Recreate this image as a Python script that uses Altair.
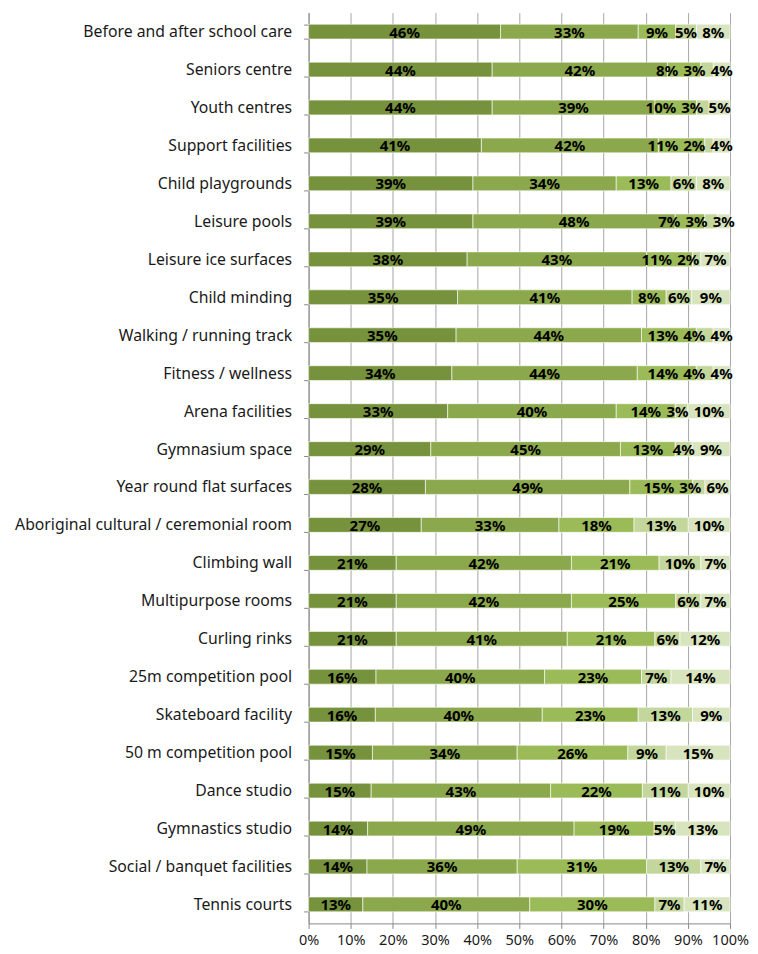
import altair as alt
import pandas as pd

categories = [
    "Before and after school care", "Seniors centre", "Youth centres",
    "Support facilities", "Child playgrounds", "Leisure pools",
    "Leisure ice surfaces", "Child minding", "Walking / running track",
    "Fitness / wellness", "Arena facilities", "Gymnasium space",
    "Year round flat surfaces", "Aboriginal cultural / ceremonial room",
    "Climbing wall", "Multipurpose rooms", "Curling rinks",
    "25m competition pool", "Skateboard facility", "50 m competition pool",
    "Dance studio", "Gymnastics studio", "Social / banquet facilities",
    "Tennis courts",
]
series_names = ["Level 1", "Level 2", "Level 3", "Level 4", "Level 5"]
level1 = [46, 44, 44, 41, 39, 39, 38, 35, 35, 34, 33, 29, 28, 27, 21, 21, 21, 16, 16, 15, 15, 14, 14, 13]
level2 = [33, 42, 39, 42, 34, 48, 43, 41, 44, 44, 40, 45, 49, 33, 42, 42, 41, 40, 40, 34, 43, 49, 36, 40]
level3 = [9, 8, 10, 11, 13, 7, 11, 8, 13, 14, 14, 13, 15, 18, 21, 25, 21, 23, 23, 26, 22, 19, 31, 30]
level4 = [5, 3, 3, 2, 6, 3, 2, 6, 4, 4, 3, 4, 3, 13, 10, 6, 6, 7, 13, 9, 11, 5, 13, 7]
level5 = [8, 4, 5, 4, 8, 3, 7, 9, 4, 4, 10, 9, 6, 10, 7, 7, 12, 14, 9, 15, 10, 13, 7, 11]
colors = ["#77923C", "#8BA84C", "#9BBB59", "#C3D69B", "#D7E4BD"]

PLOT_W = 422
PLOT_H = 912
LABEL_FONT = 15


def label_width_px(text):
    # rough width estimate of a bold label, used only to keep labels apart
    return 8.3 * (len(text) - 1) + 13.0


all_series = [level1, level2, level3, level4, level5]
rows = []
for ci, cat in enumerate(categories):
    vals = [s[ci] for s in all_series]
    total = float(sum(vals))
    cum = 0.0
    segs = []
    for si, v in enumerate(vals):
        s0 = cum / total
        cum += v
        s1 = cum / total
        segs.append({"cat": cat, "series": series_names[si], "order": si,
                     "value": v, "label": f"{v}%", "s0": s0, "s1": s1,
                     "mid": (s0 + s1) / 2})
    # simple label de-collision: push labels leftwards so they don't overlap
    gap = 6.0
    pos = [sg["mid"] * PLOT_W for sg in segs]
    for i in range(len(segs) - 2, -1, -1):
        need = (label_width_px(segs[i]["label"]) + label_width_px(segs[i + 1]["label"])) / 2 + gap
        pos[i] = min(pos[i], pos[i + 1] - need)
    for sg, p in zip(segs, pos):
        sg["lx"] = p / PLOT_W
    rows.extend(segs)
df = pd.DataFrame(rows)

base = alt.Chart(df)

y_enc = alt.Y("cat:N", sort=categories, title=None,
              scale=alt.Scale(paddingInner=0.61, paddingOuter=0.305),
              axis=alt.Axis(tickBand="extent", grid=False, labelFont="Noto Sans",
                            labelFontSize=15.8, labelColor="#1a1a1a", labelPadding=12,
                            tickSize=5, tickColor="#888", domainColor="#888",
                            labelLimit=400))

bars = base.mark_bar(stroke="white", strokeWidth=0.6).encode(
    x=alt.X("s0:Q", scale=alt.Scale(domain=[0, 1]), title=None,
            axis=alt.Axis(format=".0%", values=[i / 10 for i in range(11)],
                          grid=True, gridColor="#A6A6A6", gridWidth=1,
                          domainColor="#888", tickColor="#888", tickSize=5,
                          labelFont="Noto Sans", labelFontSize=14.5,
                          labelColor="#1a1a1a", labelPadding=5,
                          labelOverlap=False, labelFlush=False)),
    x2="s1:Q",
    y=y_enc,
    color=alt.Color("series:N", scale=alt.Scale(domain=series_names, range=colors),
                    legend=None),
)

texts = base.mark_text(font="Noto Sans", fontSize=LABEL_FONT, fontWeight="bold",
                       color="black", baseline="middle", dy=1).encode(
    x=alt.X("lx:Q"),
    y=alt.Y("cat:N", sort=categories),
    text="label:N",
)

chart = alt.layer(bars, texts).properties(
    width=PLOT_W, height=PLOT_H,
    autosize=alt.AutoSizeParams(type="none"),
    padding={"left": 301, "top": 4, "right": 20, "bottom": 30},
).configure_view(stroke=None).configure_axis(domainWidth=1)

chart.save("out.html", embed_options={"renderer": "svg", "actions": False})
